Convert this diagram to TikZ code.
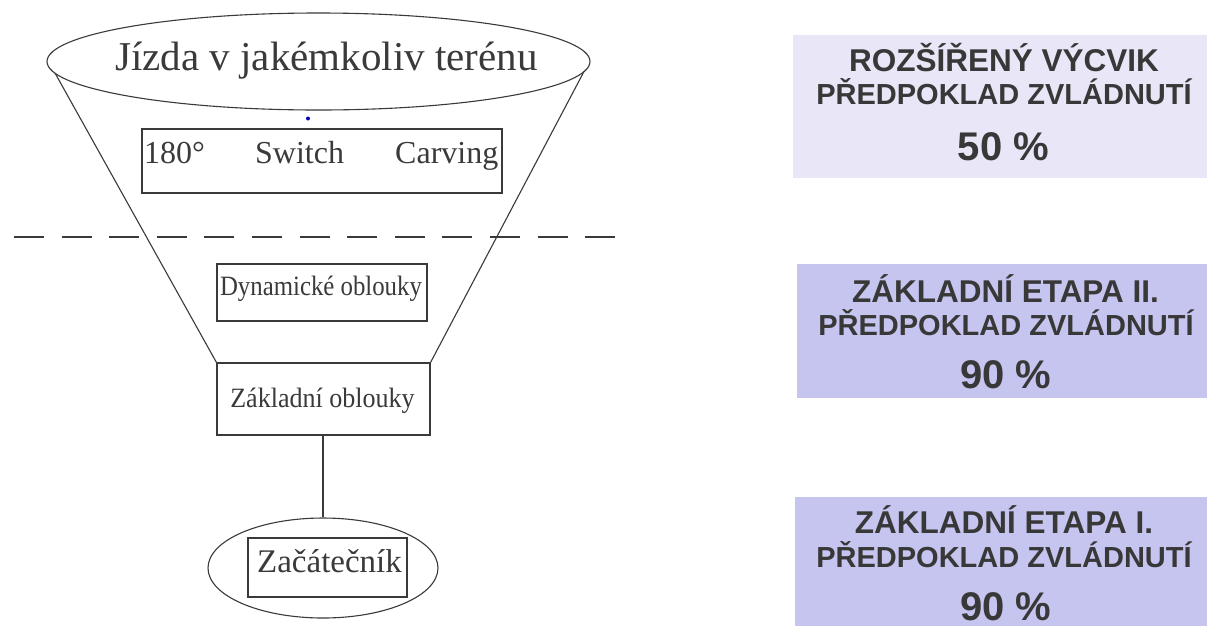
\documentclass[tikz,border=0pt]{standalone}
\usepackage{fontspec}
\setmainfont{Liberation Serif}
\newfontfamily\arialfont{Liberation Sans}
\usetikzlibrary{shapes.geometric}
\definecolor{ink}{HTML}{3A3A3A}
\definecolor{lightlav}{HTML}{E8E6F7}
\definecolor{lav}{HTML}{C6C5F0}
\definecolor{txt}{HTML}{383838}
\tikzset{
  ln/.style={draw=ink, line width=1.1pt},
  bx/.style={ln, rectangle, inner sep=0pt},
  ell/.style={ln, ellipse, inner sep=0pt},
  serif/.style={text=ink, inner sep=0pt, anchor=base},
  panel/.style={rectangle, inner sep=0pt},
  ptxta/.style={text=txt, inner sep=0pt, anchor=base, font=\arialfont\bfseries\fontsize{31.5}{31.5}\selectfont},
  ptxtb/.style={text=txt, inner sep=0pt, anchor=base, font=\arialfont\bfseries\fontsize{29}{29}\selectfont},
  pbig/.style={text=txt, inner sep=0pt, anchor=base, font=\arialfont\bfseries\fontsize{40}{40}\selectfont}
}
\begin{document}
\begin{tikzpicture}[x=1pt,y=-1pt]
\useasboundingbox (0,0) rectangle (1207,625);
\fill[white] (0,0) rectangle (1207,625);
% top ellipse
\node[ell, minimum width=543pt, minimum height=97pt] (top) at (318.5,61.5) {};
\node[serif, font=\fontsize{41}{41}\selectfont] (toptxt) at (326.5,70) {Jízda v jakémkoliv terénu};
\fill[blue!75!black] (308,118.5) circle (2pt);
% box 180
\node[bx, minimum width=360pt, minimum height=64pt] (tricks) at (322,161) {};
\node[serif, anchor=base west, font=\fontsize{32}{32}\selectfont] (t180) at (144,163) {180°};
\node[serif, anchor=base west, font=\fontsize{32}{32}\selectfont] (tsw) at (255,163) {Switch};
\node[serif, anchor=base west, font=\fontsize{32}{32}\selectfont] (tcar) at (395,163) {Carving};
% dashed line
\coordinate (dl) at (14,237);
\coordinate (dr) at (616,237);
\draw[draw=ink, line width=1.7pt, dash pattern=on 30pt off 17.6pt] (dl) -- (dr);
% dynamic box
\node[bx, minimum width=210pt, minimum height=57pt] (dyn) at (322,292.5) {};
\node[serif, font=\fontsize{28}{28}\selectfont] (dyntxt) at (321,295) {\scalebox{0.886}[1]{Dynamické oblouky}};
% zakladni box
\node[bx, minimum width=213pt, minimum height=72pt] (zak) at (323.5,399) {};
\node[serif, font=\fontsize{28}{28}\selectfont] (zaktxt) at (322.5,407) {\scalebox{0.93}[1]{Základní oblouky}};
% funnel lines
\coordinate (fl) at (55,73);
\coordinate (fr) at (584,71.5);
\draw[ln] (fl) -- (zak.north west);
\draw[ln] (fr) -- (zak.north east);
% bottom ellipse
\node[ell, minimum width=230pt, minimum height=100pt] (beg) at (323,568) {};
\draw[ln] (zak.south -| beg.north) -- (beg.north);
\node[bx, minimum width=159pt, minimum height=59pt] (begbox) at (327.5,567.5) {};
\node[serif, font=\fontsize{33}{33}\selectfont] (begtxt) at (329.5,572) {Začátečník};
% right panels
\node[panel, fill=lightlav, minimum width=414pt, minimum height=143pt] (p1) at (1000,106.5) {};
\node[ptxta] (p1a) at (1004,71) {ROZŠÍŘENÝ VÝCVIK};
\node[ptxtb] (p1b) at (1004,104) {PŘEDPOKLAD ZVLÁDNUTÍ};
\node[pbig] (p1c) at (1003.5,160) {50 \%};
\node[panel, fill=lav, minimum width=410pt, minimum height=134pt] (p2) at (1002,331) {};
\node[ptxta] (p2a) at (1005.5,302) {ZÁKLADNÍ ETAPA II.};
\node[ptxtb] (p2b) at (1006,335) {PŘEDPOKLAD ZVLÁDNUTÍ};
\node[pbig] (p2c) at (1006,388) {90 \%};
\node[panel, fill=lav, minimum width=412pt, minimum height=130pt] (p3) at (1001,562) {};
\node[ptxta] (p3a) at (1004,533) {ZÁKLADNÍ ETAPA I.};
\node[ptxtb] (p3b) at (1004,567) {PŘEDPOKLAD ZVLÁDNUTÍ};
\node[pbig] (p3c) at (1006,620) {90 \%};
\end{tikzpicture}
\end{document}
